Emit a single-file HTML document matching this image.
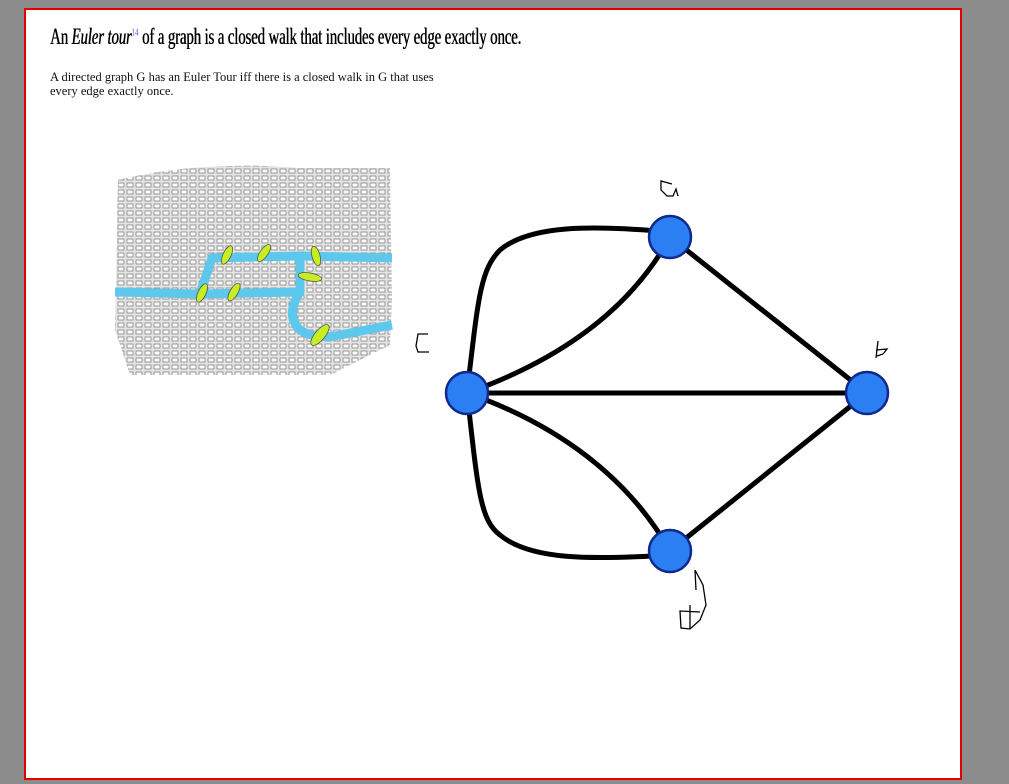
<!DOCTYPE html>
<html><head><meta charset="utf-8"><style>
html,body{margin:0;padding:0;width:1009px;height:784px;overflow:hidden;background:#8c8c8c;}
.page{position:absolute;left:24px;top:8px;width:934px;height:768px;background:#fff;border:2px solid #e00000;}
.t{position:absolute;left:50px;top:24px;font-family:"Liberation Serif",serif;font-size:23px;color:#000;white-space:nowrap;transform-origin:0 0;transform:scaleX(0.645);letter-spacing:-0.2px;text-shadow:0.6px 0 0 #000}
.t sup{font-size:11px;color:#5566dd;text-shadow:none}
.p{position:absolute;left:50px;top:70px;font-family:"Liberation Serif",serif;font-size:12.5px;line-height:14px;color:#111;}
</style></head><body>
<div class="page"></div>
<div class="t">An <i>Euler tour</i><sup>14</sup> of a graph is a closed walk that includes every edge exactly once.</div>
<div class="p">A directed graph G has an Euler Tour iff there is a closed walk in G that uses<br>every edge exactly once.</div>
<svg width="1009" height="784" style="position:absolute;left:0;top:0">
<defs>
<pattern id="pt" width="9" height="7" patternUnits="userSpaceOnUse">
<rect width="9" height="7" fill="#e4e4e4"/>
<rect x="1" y="1" width="6" height="4" fill="#fafafa" stroke="#777" stroke-width="0.7"/>
</pattern>
</defs>
<path d="M118,180 Q200,160 300,168 L390,168 L392,300 L390,345 L330,375 L130,375 L115,330 Z" fill="url(#pt)"/>
<g fill="none" stroke="#5ec8ec" stroke-width="9" stroke-linejoin="round">
<path d="M115,292 L200,294 L212,258 L300,256 L392,258"/>
<path d="M200,294 L300,292 L300,258"/>
<path d="M300,292 Q285,315 300,330 Q315,340 340,335 L392,325"/>
</g>
<g fill="#c8ee22" stroke="#555" stroke-width="0.8">
<ellipse cx="227" cy="255" rx="4" ry="10" transform="rotate(25 227 255)"/>
<ellipse cx="264" cy="253" rx="4" ry="10" transform="rotate(35 264 253)"/>
<ellipse cx="316" cy="256" rx="4" ry="10" transform="rotate(-15 316 256)"/>
<ellipse cx="310" cy="277" rx="4" ry="12" transform="rotate(-80 310 277)"/>
<ellipse cx="202" cy="293" rx="4" ry="10" transform="rotate(25 202 293)"/>
<ellipse cx="234" cy="292" rx="4" ry="10" transform="rotate(30 234 292)"/>
<ellipse cx="320" cy="335" rx="5" ry="13" transform="rotate(40 320 335)"/>
</g>
<g fill="none" stroke="#000" stroke-width="5" stroke-linecap="round">
<path d="M467,393 C478,300 480,270 500,250 C530,225 590,225 670,232"/>
<path d="M467,393 C560,360 630,310 670,237"/>
<path d="M467,393 L867,393"/>
<path d="M670,237 L867,393"/>
<path d="M670,551 L867,393"/>
<path d="M467,393 C560,425 630,480 670,551"/>
<path d="M467,393 C478,490 480,520 500,535 C530,560 590,560 670,555"/>
</g>
<g fill="#2b7ff3" stroke="#0f2a8a" stroke-width="2.5">
<circle cx="670" cy="237" r="21"/><circle cx="867" cy="393" r="21"/>
<circle cx="467" cy="393" r="21"/><circle cx="670" cy="551" r="21"/>
</g>
<g fill="none" stroke="#000" stroke-width="1.3">
<path d="M672,184 L661,181 L661,190 L667,196 L673,196 L676,189 L678,196"/>
<path d="M428,334 L418,334 L416,346 L418,352 L429,352"/>
<path d="M878,341 L876,358 M876,350 L887,349 L883,354 L877,356"/>
<path d="M695,570 L696,590 M695,570 L703,585 L706,605 L700,620 L690,629 L681,628 L680,611 L700,612 M690,605 L690,629"/>
</g>
</svg>
</body></html>
